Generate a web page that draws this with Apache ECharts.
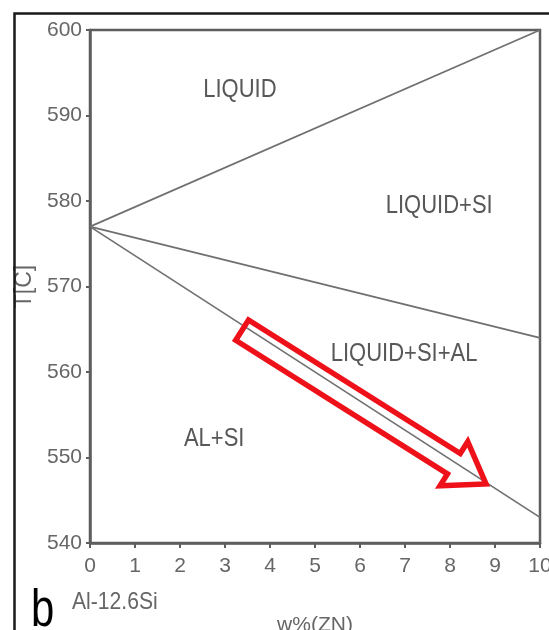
<!DOCTYPE html>
<html>
<head>
<meta charset="utf-8">
<script src="https://cdn.jsdelivr.net/npm/echarts@6/dist/echarts.min.js"></script>
<style>
  html, body { margin: 0; padding: 0; background: #fff; }
  #chart { width: 549px; height: 630px; }
</style>
</head>
<body>
<div id="chart"></div>
<script>
// phase boundaries, w%(Zn) vs T
const zn = [0, 10];
const upperLine = [577, 600];
const middleLine = [577, 564];
const lowerLine = [577, 543];

// region labels
const regionNames = ['LIQUID', 'LIQUID+SI', 'LIQUID+SI+AL', 'AL+SI'];
const regionX = [3.33, 7.76, 6.98, 2.76];
const regionY = [593.0, 579.4, 562.1, 552.2];

// red arrow along the lower line
const arrowFrom = [3.38, 564.9];
const arrowTo = [8.8, 546.9];

const xTicks = [0, 1, 2, 3, 4, 5, 6, 7, 8, 9, 10];
const yTicks = [540, 550, 560, 570, 580, 590, 600];

const font = "'Liberation Sans', Arial, sans-serif";
const gray = '#666';
const squeeze = 0.88; // the scanned lettering is narrow

function pairs(xs, ys) {
  return xs.map((x, i) => [x, ys[i]]);
}

const myChart = echarts.init(document.getElementById('chart'));

const lineStyle = { color: '#707070', width: 1.7 };

const option = {
  backgroundColor: '#fff',
  animation: false,
  grid: {
    left: 90, right: 9, top: 30, bottom: 87,
    outerBoundsMode: 'none',
    show: true, borderColor: '#5e5e5e', borderWidth: 2.5, backgroundColor: 'transparent',
  },
  xAxis: {
    type: 'value',
    min: xTicks[0], max: xTicks[xTicks.length - 1], interval: 1,
    name: 'w%(ZN)', nameLocation: 'middle', nameGap: 72,
    nameTextStyle: { fontFamily: font, fontSize: 21, color: gray },
    axisLine: { show: true, lineStyle: { color: '#5e5e5e', width: 2.5 } },
    axisTick: { show: true, length: 5, lineStyle: { color: '#5e5e5e', width: 2 } },
    axisLabel: { fontFamily: font, fontSize: 21, color: gray, margin: 13 },
    splitLine: { show: false },
  },
  yAxis: {
    type: 'value',
    min: yTicks[0], max: yTicks[yTicks.length - 1], interval: 10,
    name: 'T[C]', nameLocation: 'middle', nameGap: 53, nameRotate: 90,
    nameTextStyle: { fontFamily: font, fontSize: 23, color: gray },
    axisLine: { show: true, lineStyle: { color: '#5e5e5e', width: 2.5 } },
    axisTick: { show: true, length: 4, lineStyle: { color: '#5e5e5e', width: 2 } },
    axisLabel: { fontFamily: font, fontSize: 21, color: gray, margin: 8 },
    splitLine: { show: false },
  },
  graphic: [
    {
      type: 'rect', left: 12, top: 11, z: 100,
      shape: { width: 600, height: 700 },
      style: { fill: 'none', stroke: '#1a1a1a', lineWidth: 2.5 },
    },
    {
      type: 'text', x: 31, y: 586, scaleX: 0.82, z: 100,
      style: { text: 'b', fontFamily: font, fontSize: 51, fill: '#000', align: 'left', verticalAlign: 'top' },
    },
    {
      type: 'text', x: 72, y: 590, scaleX: squeeze, z: 100,
      style: { text: 'Al-12.6Si', fontFamily: font, fontSize: 24, fill: gray, align: 'left', verticalAlign: 'top' },
    },
  ],
  series: [
    { type: 'line', data: pairs(zn, upperLine), symbol: 'none', lineStyle: lineStyle },
    { type: 'line', data: pairs(zn, middleLine), symbol: 'none', lineStyle: lineStyle },
    { type: 'line', data: pairs(zn, lowerLine), symbol: 'none', lineStyle: lineStyle },
    {
      // region names, drawn at data positions
      type: 'custom',
      data: regionNames.map((n, i) => [regionX[i], regionY[i], i]),
      encode: { x: 0, y: 1 },
      renderItem: function (params, api) {
        const p = api.coord([api.value(0), api.value(1)]);
        return {
          type: 'text',
          x: p[0], y: p[1], scaleX: squeeze,
          style: {
            text: regionNames[api.value(2)],
            fontFamily: font, fontSize: 25, fill: '#585858',
            align: 'center', verticalAlign: 'middle',
          },
        };
      },
    },
    {
      type: 'custom',
      data: [[arrowFrom[0], arrowFrom[1], arrowTo[0], arrowTo[1]]],
      encode: { x: [0, 2], y: [1, 3] },
      z: 10,
      renderItem: function (params, api) {
        const p0 = api.coord([api.value(0), api.value(1)]);
        const p1 = api.coord([api.value(2), api.value(3)]);
        const dx = p1[0] - p0[0], dy = p1[1] - p0[1];
        const len = Math.sqrt(dx * dx + dy * dy);
        const ux = dx / len, uy = dy / len;
        const nx = -uy, ny = ux;
        const shaftHalf = 12, headHalf = 26, headLen = 38;
        const bx = p1[0] - ux * headLen, by = p1[1] - uy * headLen;
        const pts = [
          [p0[0] + nx * shaftHalf, p0[1] + ny * shaftHalf],
          [bx + nx * shaftHalf, by + ny * shaftHalf],
          [bx + nx * headHalf, by + ny * headHalf],
          [p1[0], p1[1]],
          [bx - nx * headHalf, by - ny * headHalf],
          [bx - nx * shaftHalf, by - ny * shaftHalf],
          [p0[0] - nx * shaftHalf, p0[1] - ny * shaftHalf],
        ];
        return {
          type: 'polygon',
          shape: { points: pts },
          style: { fill: 'none', stroke: '#ee1119', lineWidth: 5.5, lineJoin: 'miter' },
        };
      },
    },
  ],
};

myChart.setOption(option);
</script>
</body>
</html>
